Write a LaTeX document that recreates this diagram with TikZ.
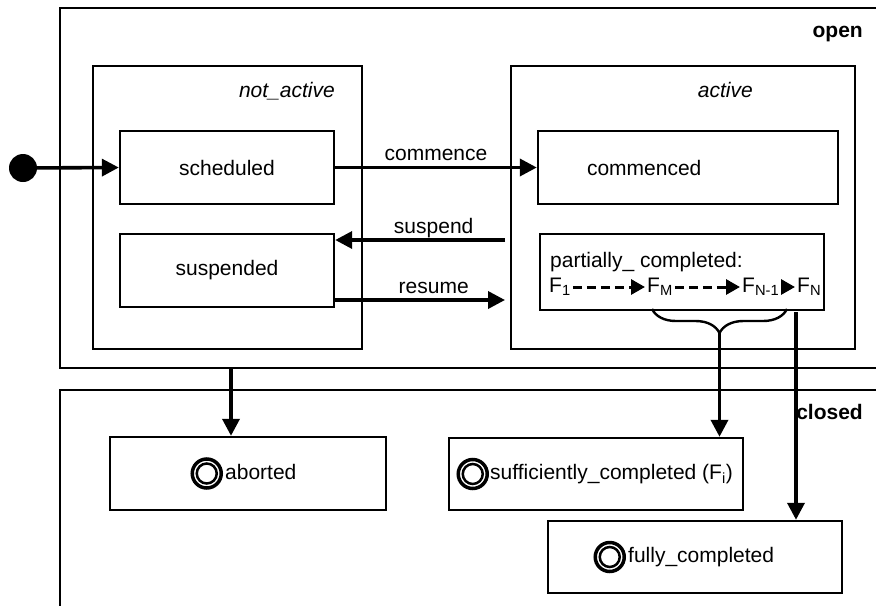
\documentclass[tikz,border=0pt]{standalone}
\usepackage{fontspec}
\setmainfont{Liberation Sans}
\usepackage{tikz}
\usetikzlibrary{arrows.meta,positioning,calc,decorations.pathreplacing}
\tikzset{
  region/.style={line width=2pt},
  superstate/.style={draw, line width=2.4pt, minimum height=283pt, inner sep=0pt},
  statebox/.style={draw, line width=2.4pt, minimum height=73pt, inner sep=0pt},
  finalmark/.style={circle, draw, line width=3.5pt, minimum size=29pt, inner sep=0pt,
    path picture={\draw[line width=2.5pt] (path picture bounding box.center) circle[radius=10pt];}},
  tag/.style={inner sep=0pt, text height=15pt, text depth=4pt},
  fname/.style={inner xsep=2pt, inner ysep=0pt, text height=15pt, text depth=5pt},
  trans/.style={above, inner sep=5pt, text depth=0pt},
  line/.style={-{Triangle[length=17pt,width=17pt]}, line width=3.6pt},
  fline/.style={-{Triangle[length=14pt,width=15pt]}, line width=3pt}
}

\begin{document}
\fontsize{21}{25}\selectfont
\begin{tikzpicture}[x=1pt, y=-1pt]
  \useasboundingbox (0,0) rectangle (876,606);
  \draw[region] (876,8) -- (60,8) -- (60,368) -- (876,368);
  \draw[region] (876,390) -- (60,390) -- (60,606);
  \node[font=\bfseries, anchor=base east] (openlbl) at (870,37) {open};
  \node[font=\bfseries, anchor=base east] (closedlbl) at (870,419) {closed};

  \node[superstate, minimum width=269pt] (notactive) at (227.5,207.5) {};
  \node[superstate, minimum width=344pt] (active) at (683,207.5) {};
  \node[font=\itshape, anchor=base east] (notactivelbl) at (342,97) {not\_active};
  \node[font=\itshape, anchor=base east] (activelbl) at (760,97) {active};

  \node[circle, fill, minimum size=28pt, inner sep=0pt] (init) at (23,168) {};
  \node[statebox, minimum width=214pt] (scheduled) at (227,167.5) {scheduled};
  \node[statebox, minimum width=214pt] (suspended) at (227,270.5) {suspended};
  \node[statebox, minimum width=300pt, text width=202pt, inner xsep=49pt, align=left] (commenced) at (688,167.5) {commenced};

  \node[statebox, minimum width=284pt, minimum height=76pt] (partial) at (682,272) {};
  \node[tag, anchor=base west] (partialtitle) at (550,267) {partially\_ completed:};
  \node[fname, anchor=base west] (f1) at (547,292) {F\textsubscript{1}};
  \node[fname, anchor=base west] (fm) at (645,292) {F\textsubscript{M}};
  \node[fname, anchor=base west] (fn1) at (740,292) {F\textsubscript{N-1}};
  \node[fname, anchor=base west] (fn) at (795,292) {F\textsubscript{N}};
  \draw[fline, dash pattern=on 9pt off 5pt] (f1.east) -- (fm.west);
  \draw[fline, dash pattern=on 9pt off 5pt] (fm.east) -- (fn1.west);
  \draw[fline] (fn1.east) -- (fn.west);

  \node[statebox, minimum width=276pt] (aborted) at (248,473.5) {};
  \node[tag, anchor=west] (abortedtxt) at (225,473.5) {aborted};
  \node[finalmark, left=2pt of abortedtxt] (abortedmark) {};
  \node[statebox, minimum width=294pt, minimum height=72pt] (suff) at (596,474) {};
  \node[tag, anchor=west] (sufftxt) at (490,474) {sufficiently\_completed (F\textsubscript{i})};
  \node[finalmark, left=1pt of sufftxt] (suffmark) {};
  \node[statebox, minimum width=294pt, minimum height=72pt] (fully) at (695,557) {};
  \node[tag, anchor=west] (fullytxt) at (628,557) {fully\_completed};
  \node[finalmark, left=2pt of fullytxt] (fullymark) {};

  \coordinate (suspstart) at (505,240);
  \coordinate (resumeend) at (505,300);
  \coordinate (openfoot) at (231,368);
  \coordinate (bracel) at (652,309);
  \coordinate (bracer) at (787,309);
  \coordinate (bracetip) at (719.5,333);
  \coordinate (fnfoot) at (796,312);

  \draw[line] (init) -- (scheduled.west);
  \draw[line] (scheduled.east) -- node[trans] {commence} (commenced.west);
  \draw[line] (suspstart) -- node[trans, pos=0.42] {suspend} (suspstart -| suspended.east);
  \draw[line] (resumeend -| suspended.east) -- node[trans, pos=0.58] {resume} (resumeend);
  \draw[line] (openfoot) -- (openfoot |- aborted.north);
  \draw[line width=2.4pt, decorate, decoration={brace, mirror, amplitude=24pt}] (bracel) -- (bracer);
  \draw[line] (bracetip) -- (bracetip |- suff.north);
  \draw[line] (fnfoot) -- (fnfoot |- fully.north);
\end{tikzpicture}
\end{document}
